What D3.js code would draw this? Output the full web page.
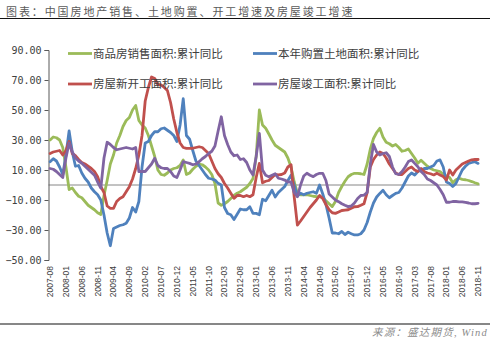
<!DOCTYPE html>
<html><head><meta charset="utf-8">
<script src="https://cdn.jsdelivr.net/npm/d3@7"></script>
<style>
html,body{margin:0;padding:0;background:#fff;}
svg{display:block;}
</style></head><body>
<svg id="c" width="490" height="341"></svg>
<script>
// categories: monthly 2007-08 .. 2018-11
const months = d3.utcMonth.range(new Date(Date.UTC(2007,7,1)), new Date(Date.UTC(2018,11,1))).map(d3.utcFormat("%Y-%m"));
const tickLabels = ["2007-08","2008-01","2008-06","2008-11","2009-04","2009-09","2010-02","2010-07","2010-12","2011-05","2011-10","2012-03","2012-08","2013-01","2013-06","2013-11","2014-04","2014-09","2015-02","2015-07","2015-12","2016-05","2016-10","2017-03","2017-08","2018-01","2018-06","2018-11"];
const yTicks = [-50,-30,-10,10,30,50,70,90];

const salesArea = [
 30,32,31.5,30,25,12,-3,-2,-5,-7.5,
 -8.5,-11,-13.5,-15,-16.5,-18.5,-19.7,-7,3,14,
 20,28,33,39,43,45,50,53,43,40,
 38,33,26,19,10,7,6.5,8,10,11,
 11.5,13,16.7,7,8,10.5,12.5,14,13.5,12,
 10,7,1,-12,-13.5,-12.5,-11,-9,-7,-5.5,
 -4.5,-3,-1.5,1,4.4,19,50,40,37.8,34,
 30,26.5,25,23.5,22,18,12,2,-5.5,-6.5,
 -6.5,-6.5,-7,-7.5,-7.8,-7.8,-8.5,-10.5,-12.5,-14.4,
 -11,-5,-1,2.5,5.5,7,7.8,7.8,7.5,7,
 14,24,31,35,37.8,32,28.5,27.5,26,27,
 25,22.5,23,24,21,18,14.5,16.5,14.5,12.5,
 11,10,9.5,9,7,6,5,1.5,3.5,4.5,
 3.8,3.5,3,2.3,1.5,0.8];
const landArea = [
 15.5,17.5,16,12,7,20,36,22,12.5,13,
 8,4.5,2,-2,-4.5,-6.5,-10,-20,-32,-40.5,
 -29,-28,-27,-26.5,-25.5,-22,-15,-18,-11,12,
 28,29,33,35.6,35.5,37.5,38,36.5,35,33,
 29,40,57.5,33,30.5,23,16,13,10,7,
 4.5,4,3.3,1.1,0,-15,-19,-19.8,-23,-19.5,
 -16,-16.5,-16.5,-14.5,-18.9,-18.9,-19.8,-9.5,-10.5,-7,
 -3.5,-8,-5,-3,-1,3,6.5,0,-7.5,-5.5,
 -6.5,-5.5,-5,-4.5,-5.5,0,-6,-13,-22,-32,
 -32,-32.5,-31,-33,-31.5,-32.5,-33.3,-33.3,-32.5,-30,
 -25,-18,-12,-8,-5.6,-3.5,-6.5,-8.5,-7,-5.6,
 -5,-2,2,6,8,6.7,9,10,11,11,
 12,13,16,16.7,12,2,1,-1,1,5.5,
 10,12.5,14.4,15,15.5,14.4];
const newStarts = [
 21,22,22.5,23,20,23,29,21,19.5,17,
 15,14,12.5,11,9,5.5,-1,-5,-14,-15.6,
 -15.6,-11,-9,-7.8,-4.5,-1.1,4,11,20,33,
 56,65,72,71,67,66.7,65,63,55,44,
 35,28,25,24.4,24.4,24.5,25,25.5,25,23,
 21,16,11,7.5,5,1,-2,-5.5,-8.9,-7,
 -7,-7.8,-7,-7.8,-6.5,5,14.4,1.5,2.5,3,
 5,7,6.7,7,8,12,13.5,-8,-26.7,-24,
 -21,-18,-15,-12.5,-10,-7,-9,-13,-16.5,-18.5,
 -18.9,-18,-17,-16.7,-16.5,-15.5,-14.5,-14.4,-13.5,-12.5,
 -5,12,17,20,22,21,18,14,11,8,
 7,7,9,11,12,10,9,11,9,8,
 7.5,6.7,7.8,6.7,5.6,3.3,10,6.7,10,12,
 14,15,16,16.8,17,17];
const completions = [
 11,10.5,9,7,5,18,28,22,18,16,
 14.5,12.5,10.5,8.5,6.5,2,-2,18,28.5,27,
 25,23.5,24,24.5,25,24.5,24,25,9,9,
 9,11.5,14,17.8,13,11.5,11,11,9,6,
 5,10,15.6,15,14.4,13.5,14,15.5,17.5,19,
 21,22.5,26,36,45.5,33,27,22,19.5,20,
 17,17.5,15,10,6.7,19,34.4,10,6.5,5.5,
 6.5,7.5,4.5,4,3.3,2,2,-5,-7.8,0,
 6,7.8,6.5,5.6,7,7.8,7.8,3,-6,-8,
 -10,-11.1,-12.5,-13.5,-14.4,-14,-12,-9,-7,-6.7,
 -5,14,27,22,20,21,21.5,19,12,7.5,
 7,9,12,15.6,16.7,14.4,12.2,9,7,4,
 3,1.5,0,-3,-6.5,-11.5,-11.5,-11,-11,-11.2,
 -11.3,-11.6,-12,-12.5,-12.5,-12.2];

const seriesNames = ["商品房销售面积:累计同比","本年购置土地面积:累计同比","房屋新开工面积:累计同比","房屋竣工面积:累计同比"];
const seriesValues = [salesArea, landArea, newStarts, completions];
const seriesColors = ["#9BBB59","#4F81BD","#C0504D","#8064A2"];

const svg = d3.select("#c");

// title and rules
svg.append("text").attr("x",6).attr("y",15.5)
  .style("font-family","'Noto Sans CJK SC',sans-serif").style("font-size","11px")
  .style("letter-spacing","1.9px").attr("fill","#5a5a5a")
  .text("图表：中国房地产销售、土地购置、开工增速及房屋竣工增速");
svg.append("line").attr("x1",0).attr("x2",490).attr("y1",18.5).attr("y2",18.5)
  .attr("stroke","#111").attr("stroke-width",1.2);
svg.append("line").attr("x1",0).attr("x2",490).attr("y1",324).attr("y2",324)
  .attr("stroke","#111").attr("stroke-width",1.2);
svg.append("text").attr("x",488).attr("y",336).attr("text-anchor","end")
  .style("font-family","'Liberation Serif','Noto Sans CJK SC',serif").style("font-size","10.5px")
  .style("font-style","italic").style("letter-spacing","1.2px").attr("fill","#8c8c8c")
  .text("来源：盛达期货, Wind");

// scales
const x = d3.scaleBand().domain(months).range([48.5, 479.7]).padding(0);
const cx = m => x(m) + x.bandwidth()/2;
const y = d3.scaleLinear().domain([-50, 90]).range([260, 50]);

// zero line (category axis)
svg.append("line").attr("x1",48.5).attr("x2",479.7).attr("y1",y(0)).attr("y2",y(0))
  .attr("stroke","#868686").attr("stroke-width",1);

// y axis
const ya = svg.append("g").attr("transform","translate(48.5,0)")
  .call(d3.axisLeft(y).tickValues(yTicks).tickFormat(d3.format(".2f")).tickSize(4).tickPadding(3));
ya.select(".domain").attr("stroke","#595959");
ya.selectAll(".tick line").attr("stroke","#595959");
ya.selectAll("text").style("font-family","'DejaVu Sans Mono',monospace").style("font-size","10px").attr("fill","#404040");

// x axis labels
const xa = svg.append("g").attr("transform","translate(0,262)")
  .call(d3.axisBottom(x).tickValues(tickLabels).tickSize(0));
xa.select(".domain").remove();
xa.selectAll("text").attr("transform","rotate(-90)").attr("x",-4).attr("y",0).attr("dy","0.35em")
  .attr("text-anchor","end")
  .style("font-family","'Liberation Sans',sans-serif").style("font-size","8.5px").attr("fill","#404040");

// lines
const line = d3.line().x((d,i)=>cx(months[i])).y(d=>y(d)).curve(d3.curveLinear);
seriesValues.forEach((vals,k)=>{
  svg.append("path").datum(vals).attr("d",line).attr("fill","none")
    .attr("stroke",seriesColors[k]).attr("stroke-width",2.8)
    .attr("stroke-linejoin","round").attr("stroke-linecap","round");
});

// legend
const legendPos = [[68,53.5],[253,53.5],[68,84],[253,84]];
seriesNames.forEach((n,k)=>{
  const [lx,ly] = legendPos[k];
  svg.append("line").attr("x1",lx).attr("x2",lx+24).attr("y1",ly).attr("y2",ly)
    .attr("stroke",seriesColors[k]).attr("stroke-width",2.8);
  svg.append("text").attr("x",lx+25).attr("y",ly).attr("dy","0.36em")
    .style("font-family","'Noto Sans CJK SC',sans-serif").style("font-size","11.5px")
    .attr("fill","#404040").text(n);
});
</script>
</body></html>
